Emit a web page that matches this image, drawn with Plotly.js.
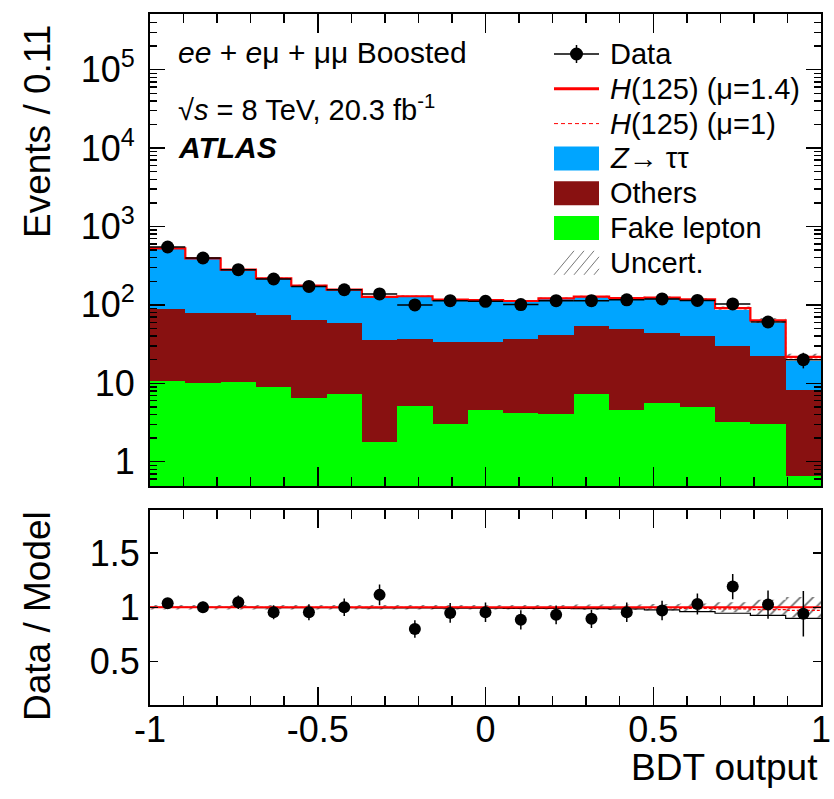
<!DOCTYPE html>
<html>
<head>
<meta charset="utf-8">
<script src="https://cdn.plot.ly/plotly-3.0.1.min.js"></script>
<style>
  html, body { margin: 0; padding: 0; background: #ffffff; }
  #chart { width: 834px; height: 799px; }
</style>
</head>
<body>
<div id="chart"></div>
<script>
// BDT output binning: 19 equal bins between -1 and 1
const binLow = -1;
const binHigh = 1;
const nBins = 19;

// Background components per bin (events)
const fakeLepton = [10.8, 10.0, 10.4, 8.9, 6.4, 7.4, 1.76, 5.2, 3.05, 4.5, 4.2, 4.0, 7.3, 4.5, 5.6, 5.0, 3.2, 3.05, 0.65];
const others     = [76.9, 68.0, 69.1, 65.4, 58.3, 50.6, 34.2, 31.8, 30.2, 29.5, 32.5, 37.7, 47.0, 45.2, 38.2, 35.5, 27.0, 19.0, 7.45];
const ztautau    = [438, 314, 201.5, 143.7, 111.3, 98, 90, 91, 82.8, 80, 74.3, 78.3, 71.7, 70.3, 77.2, 72.5, 55.8, 36.8, 11.4];

// Higgs signal at mu = 1 (events); the fitted strength scales it
const higgsMu1 = [0.3, 0.3, 0.3, 0.4, 0.4, 0.5, 0.5, 0.6, 0.6, 0.7, 0.8, 1.0, 1.2, 1.3, 2.2, 3.4, 3.6, 3.4, 1.6];
const muFit = 1.4;

// Observed events and their uncertainties
const dataCounts = [547, 396, 281, 214, 172, 156, 138, 100, 113, 111, 101, 113, 113, 116, 119, 114, 103, 60.5, 20];
const dataErr    = [23, 20, 17, 15, 13, 12.5, 12, 10, 10.6, 10.5, 10, 10.6, 10.6, 10.8, 10.9, 10.7, 10.1, 7.8, 4.5];

// Data / Model ratio, its uncertainty and the relative model uncertainty
const ratioVals  = [1.037, 1.0, 1.046, 0.954, 0.954, 1.0, 1.114, 0.80, 0.948, 0.954, 0.884, 0.93, 0.894, 0.954, 0.97, 1.03, 1.19, 1.025, 0.94];
const ratioErr   = [0.045, 0.05, 0.062, 0.065, 0.073, 0.08, 0.095, 0.08, 0.09, 0.09, 0.088, 0.087, 0.084, 0.089, 0.089, 0.097, 0.117, 0.13, 0.21];
const relUncert  = [0.02, 0.02, 0.02, 0.02, 0.02, 0.02, 0.02, 0.02, 0.02, 0.02, 0.02, 0.02, 0.025, 0.025, 0.03, 0.035, 0.046, 0.07, 0.095];

// Axis ticks
const logTickVals = [1, 10, 100, 1000, 10000, 100000];
const logTickText = ['1', '10', '10<sup>2</sup>', '10<sup>3</sup>', '10<sup>4</sup>', '10<sup>5</sup>'];
const logMinorVals = [];
for (let d = 0.1; d <= 1e5; d *= 10) {
  for (let k = 2; k <= 9; k++) logMinorVals.push(Math.round(k * d * 1e6) / 1e6);
}
const xTickVals = [-1, -0.5, 0, 0.5, 1];
const xTickText = ['-1', '-0.5', '0', '0.5', '1'];
const ratioTickVals = [0.5, 1, 1.5];
const ratioTickText = ['0.5', '1', '1.5'];

// ---- derived quantities ----
const binW = (binHigh - binLow) / nBins;
const centers = Array.from({length: nBins}, (_, i) => binLow + (i + 0.5) * binW);
const edges = Array.from({length: nBins + 1}, (_, i) => binLow + i * binW);

const cumFake = fakeLepton.slice();
const cumOthers = cumFake.map((v, i) => v + others[i]);
const cumZ = cumOthers.map((v, i) => v + ztautau[i]);
const totalFit = cumZ.map((v, i) => v + muFit * higgsMu1[i]);
const totalSM = cumZ.map((v, i) => v + higgsMu1[i]);

// step-line helper: y value per bin -> hv path over bin edges
const stepY = arr => arr.concat([arr[arr.length - 1]]);

const FONT = 'Liberation Sans, Arial, Helvetica, sans-serif';
const BLUE = '#00A5FF';
const DARKRED = '#881111';
const GREEN = '#00FF00';
const RED = '#FF0000';

const hatch = {shape: '/', fgcolor: '#6a6a6a', bgcolor: 'rgba(0,0,0,0)', size: 9, solidity: 0.18};

const traces = [];

// stacked backgrounds, drawn as overlaid cumulative bars
[[cumZ, BLUE, 'Z→ ττ'], [cumOthers, DARKRED, 'Others'], [cumFake, GREEN, 'Fake lepton']].forEach(([vals, col, nm]) => {
  traces.push({
    type: 'bar', x: centers, y: vals, width: binW, name: nm,
    marker: {color: col, line: {width: 0}},
    xaxis: 'x', yaxis: 'y', showlegend: false, hoverinfo: 'skip'
  });
});

// uncertainty band on the total model
traces.push({
  type: 'scatter', mode: 'lines', x: edges, y: stepY(totalFit.map((t, i) => t * (1 - relUncert[i]))),
  line: {shape: 'hv', width: 0, color: 'rgba(0,0,0,0)'}, xaxis: 'x', yaxis: 'y', showlegend: false, hoverinfo: 'skip'
});
traces.push({
  type: 'scatter', mode: 'lines', x: edges, y: stepY(totalFit.map((t, i) => t * (1 + relUncert[i]))),
  line: {shape: 'hv', width: 0, color: 'rgba(0,0,0,0)'}, fill: 'tonexty', fillcolor: 'rgba(0,0,0,0)',
  fillpattern: hatch, xaxis: 'x', yaxis: 'y', showlegend: false, hoverinfo: 'skip'
});

// total model with the Higgs signal at mu = 1 and at the fitted mu
traces.push({
  type: 'scatter', mode: 'lines', x: edges, y: stepY(totalSM),
  line: {shape: 'hv', width: 1, color: RED, dash: '3px,2px'}, xaxis: 'x', yaxis: 'y', showlegend: false, hoverinfo: 'skip'
});
traces.push({
  type: 'scatter', mode: 'lines', x: edges, y: stepY(totalFit),
  line: {shape: 'hv', width: 2.2, color: RED}, xaxis: 'x', yaxis: 'y', showlegend: false, hoverinfo: 'skip'
});

// observed data
traces.push({
  type: 'scatter', mode: 'markers', x: centers, y: dataCounts,
  marker: {color: 'black', size: 13},
  error_y: {type: 'data', array: dataErr, color: 'black', thickness: 1.5, width: 0},
  error_x: {type: 'constant', value: binW / 2, color: 'black', thickness: 1.5, width: 0},
  xaxis: 'x', yaxis: 'y', showlegend: false
});

// ---- ratio panel ----
traces.push({
  type: 'scatter', mode: 'lines', x: edges, y: stepY(relUncert.map(u => 1 - u)),
  line: {shape: 'hv', width: 0, color: 'rgba(0,0,0,0)'}, xaxis: 'x2', yaxis: 'y2', showlegend: false, hoverinfo: 'skip'
});
traces.push({
  type: 'scatter', mode: 'lines', x: edges, y: stepY(relUncert.map(u => 1 + u)),
  line: {shape: 'hv', width: 0, color: 'rgba(0,0,0,0)'}, fill: 'tonexty', fillcolor: 'rgba(0,0,0,0)',
  fillpattern: hatch, xaxis: 'x2', yaxis: 'y2', showlegend: false, hoverinfo: 'skip'
});
// background-only relative to the fitted model
traces.push({
  type: 'scatter', mode: 'lines', x: edges, y: stepY(cumZ.map((b, i) => b / totalFit[i])),
  line: {shape: 'hv', width: 1.2, color: 'black'}, xaxis: 'x2', yaxis: 'y2', showlegend: false, hoverinfo: 'skip'
});
traces.push({
  type: 'scatter', mode: 'lines', x: edges, y: stepY(totalFit.map(t => t / t)),
  line: {shape: 'hv', width: 2.2, color: RED}, xaxis: 'x2', yaxis: 'y2', showlegend: false, hoverinfo: 'skip'
});
traces.push({
  type: 'scatter', mode: 'lines', x: edges, y: stepY(totalSM.map((s, i) => s / totalFit[i])),
  line: {shape: 'hv', width: 1.2, color: RED, dash: '3px,2px'}, xaxis: 'x2', yaxis: 'y2', showlegend: false, hoverinfo: 'skip'
});
traces.push({
  type: 'scatter', mode: 'markers', x: centers, y: ratioVals,
  marker: {color: 'black', size: 12},
  error_y: {type: 'data', array: ratioErr, color: 'black', thickness: 1.5, width: 0},
  xaxis: 'x2', yaxis: 'y2', showlegend: false
});

// ---- legend, drawn in the upper right corner of the top panel ----
const L = 150, R = 821, T = 14, B = 705;
const px = v => (v - L) / (R - L);
const py = v => (B - v) / (B - T);
const symX0 = 554, symX1 = 599, textX = 608;
const rowY = k => 54 + 34.8 * k;
const shapes = [];
const annotations = [];
const legendRows = [
  ['data', 'Data'],
  ['solid', '<i>H</i>(125) (μ=1.4)'],
  ['dash', '<i>H</i>(125) (μ=1)'],
  ['box', '<i>Z</i>→ ττ', BLUE],
  ['box', 'Others', DARKRED],
  ['box', 'Fake lepton', GREEN],
  ['hatch', 'Uncert.']
];
legendRows.forEach(([kind, label, col], k) => {
  const yc = rowY(k);
  if (kind === 'data') {
    shapes.push({type: 'line', xref: 'paper', yref: 'paper', x0: px(symX0), x1: px(symX1), y0: py(yc), y1: py(yc), line: {color: 'black', width: 1.5}});
    const xm = (symX0 + symX1) / 2;
    shapes.push({type: 'line', xref: 'paper', yref: 'paper', x0: px(xm), x1: px(xm), y0: py(yc - 9), y1: py(yc + 9), line: {color: 'black', width: 1.5}});
    shapes.push({type: 'circle', xref: 'paper', yref: 'paper', x0: px(xm - 6.5), x1: px(xm + 6.5), y0: py(yc + 6.5), y1: py(yc - 6.5), fillcolor: 'black', line: {width: 0}});
  } else if (kind === 'solid') {
    shapes.push({type: 'line', xref: 'paper', yref: 'paper', x0: px(symX0), x1: px(symX1), y0: py(yc), y1: py(yc), line: {color: RED, width: 3}});
  } else if (kind === 'dash') {
    shapes.push({type: 'line', xref: 'paper', yref: 'paper', x0: px(symX0), x1: px(symX1), y0: py(yc), y1: py(yc), line: {color: RED, width: 1, dash: '4px,3px'}});
  } else if (kind === 'box') {
    shapes.push({type: 'rect', xref: 'paper', yref: 'paper', x0: px(symX0), x1: px(symX1), y0: py(yc + 12), y1: py(yc - 12), fillcolor: col, line: {width: 0}});
  } else if (kind === 'hatch') {
    for (let j = 0; j < 5; j++) {
      const xa = symX0 + j * 10;
      shapes.push({type: 'line', xref: 'paper', yref: 'paper', x0: px(xa), x1: px(Math.min(xa + 20, symX1)), y0: py(yc + 12), y1: py(yc + 12 - Math.min(20, symX1 - xa) * 1.2), line: {color: '#777', width: 1}});
    }
  }
  annotations.push({xref: 'paper', yref: 'paper', x: px(textX), y: py(yc), xanchor: 'left', yanchor: 'middle', showarrow: false,
    text: label, font: {family: FONT, size: 29, color: 'black'}});
});

// captions inside the top panel
const captions = [
  ['<i>ee</i> + <i>e</i>μ + μμ Boosted', 52, 30],
  ['√<i>s</i> = 8 TeV, 20.3 fb<sup>-1</sup>', 108, 29],
  ['<b><i>ATLAS</i></b>', 148, 30]
];
captions.forEach(([txt, yc, sz]) => {
  annotations.push({xref: 'paper', yref: 'paper', x: px(176), y: py(yc), xanchor: 'left', yanchor: 'middle', showarrow: false,
    text: txt, font: {family: FONT, size: sz, color: 'black'}});
});

// axis titles, aligned to the top/right ends of their axes
annotations.push({xref: 'paper', yref: 'paper', x: px(37), y: py(131), xanchor: 'center', yanchor: 'middle', textangle: -90,
  showarrow: false, text: 'Events / 0.11', font: {family: FONT, size: 37, color: 'black'}});
annotations.push({xref: 'paper', yref: 'paper', x: px(37), y: py(616), xanchor: 'center', yanchor: 'middle', textangle: -90,
  showarrow: false, text: 'Data / Model', font: {family: FONT, size: 37, color: 'black'}});
annotations.push({xref: 'paper', yref: 'paper', x: px(820), y: py(768), xanchor: 'right', yanchor: 'middle',
  showarrow: false, text: 'BDT output', font: {family: FONT, size: 37, color: 'black'}});

const frameAxis = {
  showline: true, linecolor: 'black', linewidth: 2, mirror: 'ticks',
  ticks: 'inside', tickcolor: 'black', tickwidth: 1.5,
  showgrid: false, zeroline: false, fixedrange: true
};

const topDomain = [(B - 486) / (B - T), 1];
const botDomain = [0, (B - 509.5) / (B - T)];

const layout = {
  width: 834, height: 799,
  margin: {l: L, r: 834 - R, t: T, b: 799 - B},
  paper_bgcolor: 'white', plot_bgcolor: 'white',
  barmode: 'overlay', bargap: 0,
  showlegend: false,
  font: {family: FONT, size: 36, color: 'black'},
  xaxis: Object.assign({}, frameAxis, {
    domain: [0, 1], anchor: 'y', range: [binLow, binHigh], tick0: -1, dtick: 0.5, ticklen: 19,
    showticklabels: false,
    minor: {ticks: 'inside', dtick: 0.1, ticklen: 9, tickwidth: 1.5, tickcolor: 'black', showgrid: false}
  }),
  yaxis: Object.assign({}, frameAxis, {
    domain: topDomain, anchor: 'x', type: 'log', range: [-0.31, 5.71],
    tickmode: 'array', tickvals: logTickVals, ticktext: logTickText, ticklen: 15,
    ticklabelstandoff: 6,
    tickfont: {family: FONT, size: 36, color: 'black'},
    minor: {ticks: 'inside', tickmode: 'array', tickvals: logMinorVals, ticklen: 7, tickwidth: 1.5, tickcolor: 'black', showgrid: false}
  }),
  xaxis2: Object.assign({}, frameAxis, {
    domain: [0, 1], anchor: 'y2', range: [binLow, binHigh], tickmode: 'array',
    tickvals: xTickVals, ticktext: xTickText, ticklen: 18,
    ticklabelstandoff: -8,
    tickfont: {family: FONT, size: 36, color: 'black'},
    minor: {ticks: 'inside', dtick: 0.1, ticklen: 9, tickwidth: 1.5, tickcolor: 'black', showgrid: false}
  }),
  yaxis2: Object.assign({}, frameAxis, {
    domain: botDomain, anchor: 'x2', range: [0.1, 1.9],
    tickmode: 'array', tickvals: ratioTickVals, ticktext: ratioTickText, ticklen: 8,
    ticklabelstandoff: 1,
    tickfont: {family: FONT, size: 36, color: 'black'}
  }),
  shapes: shapes,
  annotations: annotations
};

Plotly.newPlot('chart', traces, layout, {staticPlot: true, displayModeBar: false});
</script>
</body>
</html>
